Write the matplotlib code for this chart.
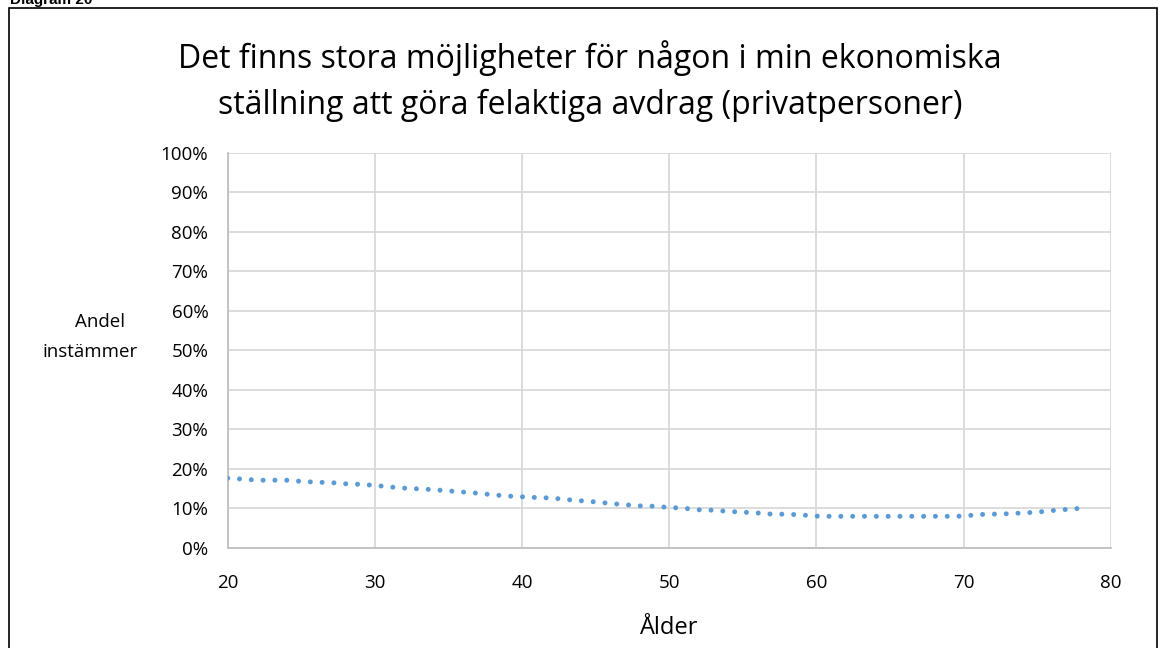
import matplotlib
matplotlib.use("Agg")
import matplotlib.pyplot as plt
from matplotlib.patches import Rectangle
from matplotlib.ticker import PercentFormatter

plt.rcParams['font.family'] = ['Open Sans', 'DejaVu Sans']
plt.rcParams['lines.scale_dashes'] = False

title = "Det finns stora möjligheter för någon i min ekonomiska\nställning att göra felaktiga avdrag (privatpersoner)"
xlabel = "Ålder"
ylabel_lines = ["Andel", "instämmer"]
header = "Diagram 20"

ages = [20, 21, 22, 23, 24, 25, 26, 27, 28, 29, 30, 31, 32, 33, 34, 35, 36, 37, 38, 39,
        40, 41, 42, 43, 44, 45, 46, 47, 48, 49, 50, 51, 52, 53, 54, 55, 56, 57, 58, 59,
        60, 61, 62, 63, 64, 65, 66, 67, 68, 69, 70, 71, 72, 73, 74, 75, 76, 77, 78, 78.5]
share = [17.6, 17.4, 17.1, 17.1, 17.1, 16.8, 16.6, 16.5, 16.2, 16.05, 15.8, 15.4, 15.1, 14.9,
         14.7, 14.4, 14.1, 13.8, 13.4, 13.1, 12.9, 12.7, 12.6, 12.2, 11.9, 11.6, 11.2, 10.9,
         10.6, 10.5, 10.2, 10.0, 9.6, 9.5, 9.2, 9.0, 8.8, 8.5, 8.5, 8.3, 8.0, 7.95, 7.95, 7.95,
         7.95, 7.95, 7.95, 7.95, 7.95, 7.95, 8.0, 8.4, 8.5, 8.6, 8.8, 9.0, 9.4, 9.7, 10.0, 10.0]

xticks = [20, 30, 40, 50, 60, 70, 80]
yticks = [0, 10, 20, 30, 40, 50, 60, 70, 80, 90, 100]

W, H = 1159, 648
fig = plt.figure(figsize=(W / 100, H / 100), dpi=100)
ax = fig.add_axes([227.7 / W, 1 - 547.7 / H, (1110.7 - 227.7) / W, (547.7 - 153) / H])

ax.plot(ages, share, color='#5b9bd5', linewidth=3.6, linestyle=(0, (0.01, 8.5)),
        dash_capstyle='round', solid_capstyle='round', zorder=3)

ax.set_xlim(20, 80)
ax.set_ylim(0, 100)
ax.set_xticks(xticks)
ax.set_yticks(yticks)
ax.yaxis.set_major_formatter(PercentFormatter(decimals=0))
ax.grid(True, color='#d9d9d9', linewidth=1.3)
ax.set_axisbelow(True)
for s in ['top', 'right']:
    ax.spines[s].set_visible(False)
for s in ['left', 'bottom']:
    ax.spines[s].set_color('#bfbfbf')
    ax.spines[s].set_linewidth(1.3)
ax.tick_params(length=0, labelsize=13.5, colors='#000000', pad=14)
ax.tick_params(axis='x', pad=19)
ax.set_xlabel(xlabel, fontsize=17, labelpad=17)

# y-axis title, letter-spaced like the reference
fig.text(100 / W, 1 - 322 / H, ylabel_lines[0], ha='center', va='center', fontsize=13.5)
fig.text(90 / W, 1 - 352 / H, ylabel_lines[1], ha='center', va='center', fontsize=13.5)
fig.text(590 / W, 1 - 81 / H, title, ha='center', va='center', fontsize=23, linespacing=1.5)
fig.text(10 / W, 1 - 4 / H, header, ha='left', va='baseline', fontsize=11, fontweight='bold',
         family=['Liberation Sans', 'DejaVu Sans'])

fig.patches.append(Rectangle((9 / W, -0.01), (1157 - 9) / W, 1 - 8 / H + 0.01,
                             transform=fig.transFigure, fill=False, edgecolor='black',
                             linewidth=1.2))

fig.savefig('out.png', dpi=100)
